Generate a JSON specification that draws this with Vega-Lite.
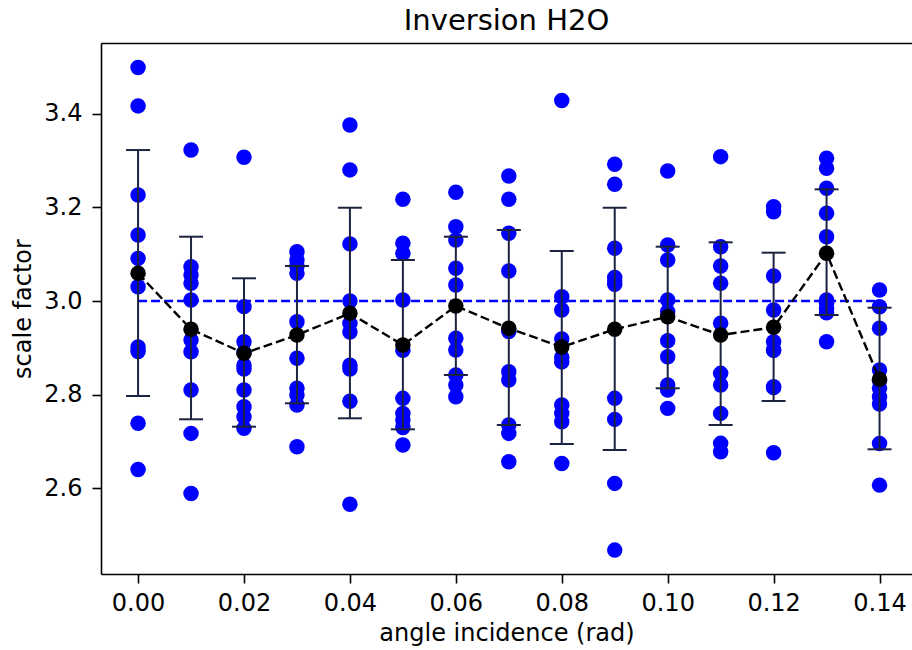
{
  "$schema": "https://vega.github.io/schema/vega-lite/v6.json",
  "autosize": "none",
  "width": 811,
  "height": 531,
  "padding": {"left": 101, "top": 43, "right": 0, "bottom": 76},
  "background": "white",
  "title": {"text": "Inversion H2O", "fontSize": 29, "font": "DejaVu Sans", "fontWeight": "normal", "color": "black", "offset": 7, "anchor": "middle"},
  "config": {
    "font": "DejaVu Sans",
    "view": {"stroke": null},
    "axis": {"grid": false, "domainColor": "black", "domainWidth": 1.6, "tickColor": "black", "tickWidth": 1.6, "tickSize": 9, "labelColor": "black", "titleColor": "black", "labelFont": "DejaVu Sans", "titleFont": "DejaVu Sans", "labelFontSize": 24, "titleFontSize": 24, "titleFontWeight": "normal"}
  },
  "datasets": {
    "pts": [
      {"angle": 0.00, "sf": 3.4985}, {"angle": 0.00, "sf": 3.4167}, {"angle": 0.00, "sf": 3.2265}, {"angle": 0.00, "sf": 3.141}, {"angle": 0.00, "sf": 3.091}, {"angle": 0.00, "sf": 3.0306}, {"angle": 0.00, "sf": 2.902}, {"angle": 0.00, "sf": 2.892}, {"angle": 0.00, "sf": 2.739}, {"angle": 0.00, "sf": 2.640},
      {"angle": 0.01, "sf": 3.3226}, {"angle": 0.01, "sf": 3.0733}, {"angle": 0.01, "sf": 3.0556}, {"angle": 0.01, "sf": 3.0378}, {"angle": 0.01, "sf": 3.0021}, {"angle": 0.01, "sf": 2.9167}, {"angle": 0.01, "sf": 2.8917}, {"angle": 0.01, "sf": 2.8098}, {"angle": 0.01, "sf": 2.7173}, {"angle": 0.01, "sf": 2.5891},
      {"angle": 0.02, "sf": 3.307}, {"angle": 0.02, "sf": 2.988}, {"angle": 0.02, "sf": 2.913}, {"angle": 0.02, "sf": 2.89}, {"angle": 0.02, "sf": 2.863}, {"angle": 0.02, "sf": 2.855}, {"angle": 0.02, "sf": 2.81}, {"angle": 0.02, "sf": 2.774}, {"angle": 0.02, "sf": 2.753}, {"angle": 0.02, "sf": 2.728},
      {"angle": 0.03, "sf": 3.1053}, {"angle": 0.03, "sf": 3.0876}, {"angle": 0.03, "sf": 3.075}, {"angle": 0.03, "sf": 3.0592}, {"angle": 0.03, "sf": 2.9558}, {"angle": 0.03, "sf": 2.8776}, {"angle": 0.03, "sf": 2.8135}, {"angle": 0.03, "sf": 2.7991}, {"angle": 0.03, "sf": 2.7778}, {"angle": 0.03, "sf": 2.6887},
      {"angle": 0.04, "sf": 3.376}, {"angle": 0.04, "sf": 3.28}, {"angle": 0.04, "sf": 3.122}, {"angle": 0.04, "sf": 3.0}, {"angle": 0.04, "sf": 2.952}, {"angle": 0.04, "sf": 2.934}, {"angle": 0.04, "sf": 2.863}, {"angle": 0.04, "sf": 2.855}, {"angle": 0.04, "sf": 2.786}, {"angle": 0.04, "sf": 2.566},
      {"angle": 0.05, "sf": 3.2173}, {"angle": 0.05, "sf": 3.1233}, {"angle": 0.05, "sf": 3.1019}, {"angle": 0.05, "sf": 3.0021}, {"angle": 0.05, "sf": 2.895}, {"angle": 0.05, "sf": 2.7921}, {"angle": 0.05, "sf": 2.76}, {"angle": 0.05, "sf": 2.7457}, {"angle": 0.05, "sf": 2.73}, {"angle": 0.05, "sf": 2.6923},
      {"angle": 0.06, "sf": 3.2323}, {"angle": 0.06, "sf": 3.1588}, {"angle": 0.06, "sf": 3.1303}, {"angle": 0.06, "sf": 3.0699}, {"angle": 0.06, "sf": 3.0342}, {"angle": 0.06, "sf": 2.9203}, {"angle": 0.06, "sf": 2.8953}, {"angle": 0.06, "sf": 2.8419}, {"angle": 0.06, "sf": 2.8205}, {"angle": 0.06, "sf": 2.7955},
      {"angle": 0.07, "sf": 3.2671}, {"angle": 0.07, "sf": 3.2173}, {"angle": 0.07, "sf": 3.1447}, {"angle": 0.07, "sf": 3.0641}, {"angle": 0.07, "sf": 2.935}, {"angle": 0.07, "sf": 2.849}, {"angle": 0.07, "sf": 2.8312}, {"angle": 0.07, "sf": 2.735}, {"angle": 0.07, "sf": 2.7173}, {"angle": 0.07, "sf": 2.6566},
      {"angle": 0.08, "sf": 3.428}, {"angle": 0.08, "sf": 3.0092}, {"angle": 0.08, "sf": 2.9808}, {"angle": 0.08, "sf": 2.9188}, {"angle": 0.08, "sf": 2.8797}, {"angle": 0.08, "sf": 2.87}, {"angle": 0.08, "sf": 2.7778}, {"angle": 0.08, "sf": 2.76}, {"angle": 0.08, "sf": 2.7421}, {"angle": 0.08, "sf": 2.6531},
      {"angle": 0.09, "sf": 3.2921}, {"angle": 0.09, "sf": 3.2494}, {"angle": 0.09, "sf": 3.1126}, {"angle": 0.09, "sf": 3.05}, {"angle": 0.09, "sf": 3.0425}, {"angle": 0.09, "sf": 3.036}, {"angle": 0.09, "sf": 2.7921}, {"angle": 0.09, "sf": 2.7472}, {"angle": 0.09, "sf": 2.6105}, {"angle": 0.09, "sf": 2.468},
      {"angle": 0.10, "sf": 3.2778}, {"angle": 0.10, "sf": 3.1197}, {"angle": 0.10, "sf": 3.0876}, {"angle": 0.10, "sf": 3.0021}, {"angle": 0.10, "sf": 2.9771}, {"angle": 0.10, "sf": 2.9151}, {"angle": 0.10, "sf": 2.881}, {"angle": 0.10, "sf": 2.8205}, {"angle": 0.10, "sf": 2.81}, {"angle": 0.10, "sf": 2.7707},
      {"angle": 0.11, "sf": 3.3083}, {"angle": 0.11, "sf": 3.116}, {"angle": 0.11, "sf": 3.0748}, {"angle": 0.11, "sf": 3.0378}, {"angle": 0.11, "sf": 2.9524}, {"angle": 0.11, "sf": 2.8455}, {"angle": 0.11, "sf": 2.8205}, {"angle": 0.11, "sf": 2.76}, {"angle": 0.11, "sf": 2.696}, {"angle": 0.11, "sf": 2.678},
      {"angle": 0.12, "sf": 3.2015}, {"angle": 0.12, "sf": 3.1908}, {"angle": 0.12, "sf": 3.0534}, {"angle": 0.12, "sf": 2.9808}, {"angle": 0.12, "sf": 2.913}, {"angle": 0.12, "sf": 2.8953}, {"angle": 0.12, "sf": 2.895}, {"angle": 0.12, "sf": 2.8169}, {"angle": 0.12, "sf": 2.815}, {"angle": 0.12, "sf": 2.6759},
      {"angle": 0.13, "sf": 3.3049}, {"angle": 0.13, "sf": 3.2835}, {"angle": 0.13, "sf": 3.2408}, {"angle": 0.13, "sf": 3.1874}, {"angle": 0.13, "sf": 3.1374}, {"angle": 0.13, "sf": 3.0021}, {"angle": 0.13, "sf": 2.9951}, {"angle": 0.13, "sf": 2.9844}, {"angle": 0.13, "sf": 2.975}, {"angle": 0.13, "sf": 2.913},
      {"angle": 0.14, "sf": 3.0235}, {"angle": 0.14, "sf": 2.9878}, {"angle": 0.14, "sf": 2.9417}, {"angle": 0.14, "sf": 2.8526}, {"angle": 0.14, "sf": 2.83}, {"angle": 0.14, "sf": 2.8135}, {"angle": 0.14, "sf": 2.7955}, {"angle": 0.14, "sf": 2.78}, {"angle": 0.14, "sf": 2.6959}, {"angle": 0.14, "sf": 2.6068}
    ],
    "stats": [
      {"angle": 0.00, "mean": 3.0592, "lo": 2.7971, "hi": 3.3224},
      {"angle": 0.01, "mean": 2.9396, "lo": 2.7474, "hi": 3.1373},
      {"angle": 0.02, "mean": 2.8883, "lo": 2.7316, "hi": 3.0485},
      {"angle": 0.03, "mean": 2.9274, "lo": 2.7816, "hi": 3.0747},
      {"angle": 0.04, "mean": 2.9737, "lo": 2.7495, "hi": 3.1992},
      {"angle": 0.05, "mean": 2.906, "lo": 2.726, "hi": 3.0876},
      {"angle": 0.06, "mean": 2.9893, "lo": 2.842, "hi": 3.1373},
      {"angle": 0.07, "mean": 2.9417, "lo": 2.7352, "hi": 3.1516},
      {"angle": 0.08, "mean": 2.9018, "lo": 2.6946, "hi": 3.1068},
      {"angle": 0.09, "mean": 2.9396, "lo": 2.6818, "hi": 3.1992},
      {"angle": 0.10, "mean": 2.9665, "lo": 2.8136, "hi": 3.116},
      {"angle": 0.11, "mean": 2.9274, "lo": 2.7352, "hi": 3.1253},
      {"angle": 0.12, "mean": 2.9438, "lo": 2.7865, "hi": 3.1032},
      {"angle": 0.13, "mean": 3.1019, "lo": 2.9701, "hi": 3.2385},
      {"angle": 0.14, "mean": 2.8328, "lo": 2.6833, "hi": 2.9857}
    ],
    "ref": [{"a0": 0.0, "a1": 0.14, "v": 3.0}]
  },
  "layer": [
    {
      "data": {"name": "pts"},
      "mark": {"type": "circle", "color": "#0000ff", "opacity": 1, "size": 240},
      "encoding": {
        "x": {"field": "angle", "type": "quantitative", "scale": {"domain": [-0.007, 0.14613], "nice": false, "zero": false},
              "axis": {"orient": "bottom", "values": [0, 0.02, 0.04, 0.06, 0.08, 0.1, 0.12, 0.14], "format": ".2f", "labelPadding": 8, "title": "angle incidence (rad)", "titlePadding": 6}},
        "y": {"field": "sf", "type": "quantitative", "scale": {"domain": [2.417, 3.551], "nice": false, "zero": false},
              "axis": {"orient": "left", "values": [2.6, 2.8, 3.0, 3.2, 3.4], "format": ".1f", "labelPadding": 10, "title": "scale factor", "titlePadding": 8}}
      }
    },
    {
      "data": {"name": "ref"},
      "mark": {"type": "rule", "color": "#0000ff", "strokeWidth": 2.4, "strokeDash": [9, 4]},
      "encoding": {
        "x": {"field": "a0", "type": "quantitative", "scale": {"domain": [-0.007, 0.14613], "nice": false, "zero": false},
              "axis": {"orient": "top", "labels": false, "ticks": false, "title": null, "domain": true}},
        "x2": {"field": "a1"},
        "y": {"field": "v", "type": "quantitative", "scale": {"domain": [2.417, 3.551], "nice": false, "zero": false}}
      }
    },
    {
      "data": {"name": "stats"},
      "mark": {"type": "rule", "color": "#1c2340", "strokeWidth": 2},
      "encoding": {
        "x": {"field": "angle", "type": "quantitative", "scale": {"domain": [-0.007, 0.14613], "nice": false, "zero": false}, "axis": null},
        "y": {"field": "lo", "type": "quantitative", "scale": {"domain": [2.417, 3.551], "nice": false, "zero": false}},
        "y2": {"field": "hi"}
      }
    },
    {
      "data": {"name": "stats"},
      "mark": {"type": "tick", "orient": "horizontal", "color": "#1c2340", "size": 24, "thickness": 2, "opacity": 1},
      "encoding": {
        "x": {"field": "angle", "type": "quantitative", "scale": {"domain": [-0.007, 0.14613], "nice": false, "zero": false}, "axis": null},
        "y": {"field": "lo", "type": "quantitative", "scale": {"domain": [2.417, 3.551], "nice": false, "zero": false}}
      }
    },
    {
      "data": {"name": "stats"},
      "mark": {"type": "tick", "orient": "horizontal", "color": "#1c2340", "size": 24, "thickness": 2, "opacity": 1},
      "encoding": {
        "x": {"field": "angle", "type": "quantitative", "scale": {"domain": [-0.007, 0.14613], "nice": false, "zero": false}, "axis": null},
        "y": {"field": "hi", "type": "quantitative", "scale": {"domain": [2.417, 3.551], "nice": false, "zero": false}}
      }
    },
    {
      "data": {"name": "stats"},
      "mark": {"type": "line", "color": "black", "strokeWidth": 2.4, "strokeDash": [9, 4]},
      "encoding": {
        "x": {"field": "angle", "type": "quantitative", "scale": {"domain": [-0.007, 0.14613], "nice": false, "zero": false}, "axis": null},
        "y": {"field": "mean", "type": "quantitative", "scale": {"domain": [2.417, 3.551], "nice": false, "zero": false}}
      }
    },
    {
      "data": {"name": "stats"},
      "mark": {"type": "circle", "color": "black", "opacity": 1, "size": 240},
      "encoding": {
        "x": {"field": "angle", "type": "quantitative", "scale": {"domain": [-0.007, 0.14613], "nice": false, "zero": false}, "axis": null},
        "y": {"field": "mean", "type": "quantitative", "scale": {"domain": [2.417, 3.551], "nice": false, "zero": false}}
      }
    }
  ],
  "resolve": {"axis": {"x": "independent"}}
}
